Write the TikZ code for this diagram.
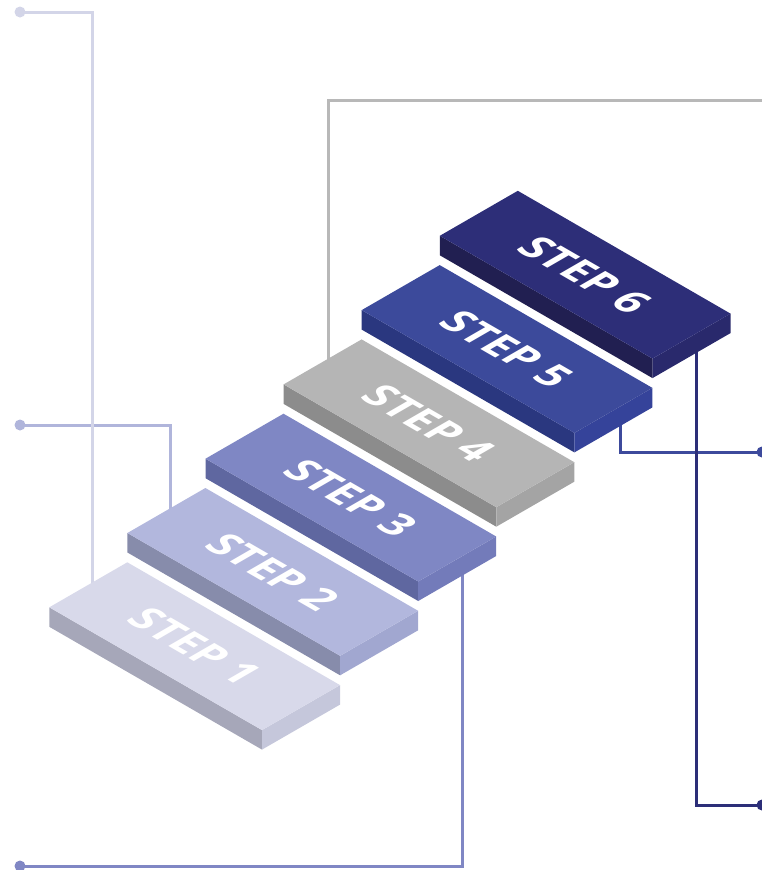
\documentclass[tikz,border=0pt]{standalone}
\usepackage{fontspec}
\setmainfont{Open Sans}
\usetikzlibrary{calc}
\definecolor{s1t}{HTML}{D8D9EA}\definecolor{s1l}{HTML}{A6A7B9}\definecolor{s1r}{HTML}{C5C7DB}
\definecolor{s2t}{HTML}{B2B7DD}\definecolor{s2l}{HTML}{878CAB}\definecolor{s2r}{HTML}{A1A7D0}
\definecolor{s3t}{HTML}{7F87C4}\definecolor{s3l}{HTML}{5F67A0}\definecolor{s3r}{HTML}{737BBA}
\definecolor{s4t}{HTML}{B5B5B5}\definecolor{s4l}{HTML}{8C8C8C}\definecolor{s4r}{HTML}{A4A4A4}
\definecolor{s5t}{HTML}{3C4A9B}\definecolor{s5l}{HTML}{2A377F}\definecolor{s5r}{HTML}{35439A}
\definecolor{s6t}{HTML}{2D2E78}\definecolor{s6l}{HTML}{211F51}\definecolor{s6r}{HTML}{29296C}
\definecolor{l1}{HTML}{D3D5E8}\definecolor{l2}{HTML}{B0B5DB}\definecolor{l3}{HTML}{8087C4}
\definecolor{l4}{HTML}{B8B8B8}\definecolor{l5}{HTML}{3D4A9C}\definecolor{l6}{HTML}{2C2E78}
\begin{document}
\begin{tikzpicture}[x=1pt,y=1pt,
  conn/.style={line width=3pt},
  dotnode/.style={circle,fill=#1,minimum size=11pt,inner sep=0pt,draw=none},
  steptext/.style={text=white,font=\fontsize{42}{42}\selectfont\bfseries,inner sep=0pt}]
\useasboundingbox (0,0) rectangle (762,-870);
% end points
\node[dotnode=l1] (d1) at (20,-12) {};
\node[dotnode=l2] (d2) at (20,-425) {};
\node[dotnode=l3] (d3) at (20,-866) {};
\node[dotnode=l5] (d5) at (762,-452) {};
\node[dotnode=l6] (d6) at (762,-805) {};
\coordinate (r4) at (770,-100);
\coordinate (e1) at (92,-590);
\coordinate (e2) at (170,-515);
\coordinate (e3) at (462,-565);
\coordinate (e4) at (328,-365);
\coordinate (e5) at (620,-415);
\coordinate (e6) at (696,-340);
% connectors
\draw[conn,l2] (d2.center) -| (e2);
\draw[conn,l1] (d1.center) -| (e1);
\draw[conn,l3] (e3) |- (d3.center);
\draw[conn,l4] (e4) |- (r4);
\draw[conn,l5] (e5) |- (d5.center);
\draw[conn,l6] (e6) |- (d6.center);
% slabs
\foreach \i/\lab in {0/1,1/2,2/3,3/4,4/5,5/6} {
  \pgfmathsetmacro\lx{49.3+78.1*\i}
  \pgfmathsetmacro\ly{-607.3+74.3*\i}
  \coordinate (L\lab) at (\lx,\ly);
  \fill[s\lab l] (L\lab) -- ++(212.7,-122.8) -- ++(0,-19.5) -- ++(-212.7,122.8) -- cycle;
  \fill[s\lab r] ($(L\lab)+(212.7,-122.8)$) -- ++(78,45) -- ++(0,-19.5) -- ++(-78,-45) -- cycle;
  \fill[s\lab t] (L\lab) -- ++(78,45) -- ++(212.7,-122.8) -- ++(-78,-45) -- cycle;
  \begin{scope}[shift={(\lx+145.35,\ly-38.9)}, cm={0.866,-0.5,0.866,0.5,(0,0)}]
    \node[steptext,transform shape] (t\lab) at (0,0) {STEP \lab};
  \end{scope}
}
\end{tikzpicture}
\end{document}
